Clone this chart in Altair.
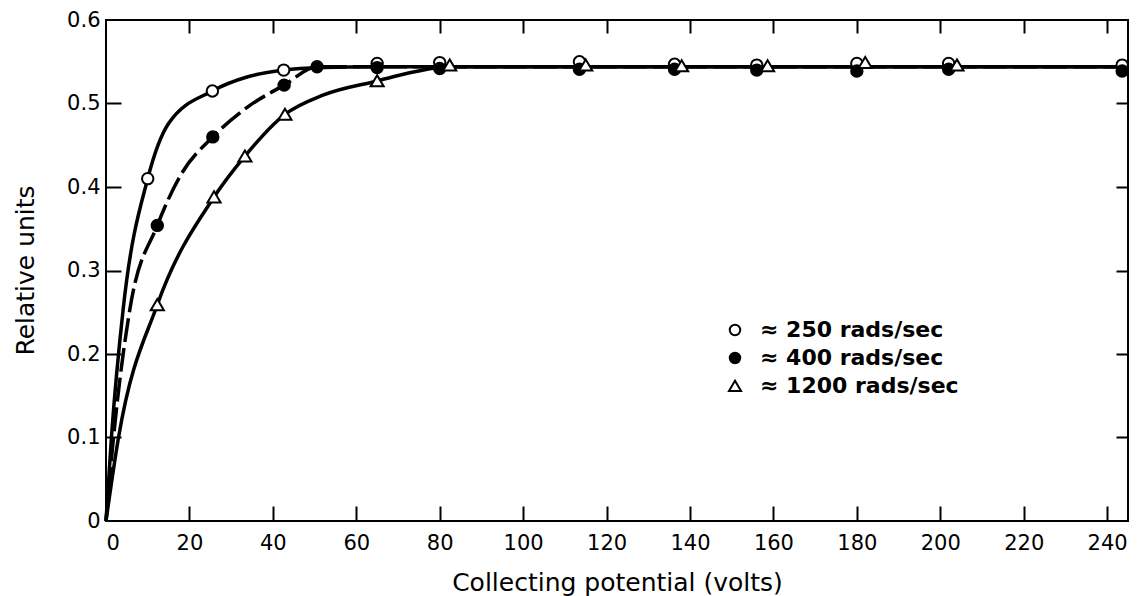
import altair as alt
import pandas as pd

# ---- data ----
series = ["≈ 250 rads/sec", "≈ 400 rads/sec", "≈ 1200 rads/sec"]

# marker points
m250_x = [10, 25.5, 42.6, 65, 80, 113.5, 136.3, 156, 180, 202, 243.6]
m250_y = [0.41, 0.515, 0.540, 0.548, 0.549, 0.550, 0.547, 0.546, 0.548, 0.548, 0.546]
m400_x = [12.3, 25.6, 42.7, 50.6, 65, 80, 113.5, 136.3, 156, 180, 202, 243.6]
m400_y = [0.354, 0.460, 0.522, 0.544, 0.543, 0.542, 0.541, 0.541, 0.540, 0.539, 0.541, 0.539]
m1200_x = [12.3, 25.9, 33.3, 42.9, 65, 82.4, 115, 138, 158.6, 182, 204]
m1200_y = [0.259, 0.388, 0.437, 0.487, 0.527, 0.546, 0.546, 0.545, 0.545, 0.549, 0.546]

# fitted curves
c250_x = [0, 1.3, 4.1, 10, 15, 25.5, 34, 42.6, 52, 65, 245]
c250_y = [0, 0.1, 0.253, 0.41, 0.476, 0.515, 0.532, 0.540, 0.543, 0.544, 0.544]
c400_x = [0, 1.8, 5.7, 12.3, 18, 25.6, 34, 42.7, 50.6, 65, 245]
c400_y = [0, 0.1, 0.253, 0.354, 0.415, 0.460, 0.496, 0.522, 0.544, 0.544, 0.544]
c1200_x = [0, 3.0, 12.3, 25.9, 33.3, 42.9, 52, 65, 74, 82, 245]
c1200_y = [0, 0.1, 0.259, 0.388, 0.437, 0.487, 0.510, 0.527, 0.538, 0.544, 0.544]

x_tick_values = [20, 40, 60, 80, 100, 120, 140, 160, 180, 200, 220, 240]
x_label_values = [0, 20, 40, 60, 80, 100, 120, 140, 160, 180, 200, 220, 240]
y_tick_values = [0.1, 0.2, 0.3, 0.4, 0.5]
y_label_values = [0, 0.1, 0.2, 0.3, 0.4, 0.5, 0.6]

markers = pd.DataFrame(
    [{"series": s, "v": x, "u": y}
     for s, xs, ys in zip(series, [m250_x, m400_x, m1200_x], [m250_y, m400_y, m1200_y])
     for x, y in zip(xs, ys)]
)
curves = pd.DataFrame(
    [{"series": s, "v": x, "u": y, "k": i}
     for s, xs, ys in zip(series, [c250_x, c400_x, c1200_x], [c250_y, c400_y, c1200_y])
     for i, (x, y) in enumerate(zip(xs, ys))]
)

W, H = 1022, 501
FONT = "DejaVu Sans"
TRIANGLE = "M0,-1.0L-1.15,0.95L1.15,0.95Z"

xscale = alt.Scale(domain=[0, 245], nice=False, zero=False)
yscale = alt.Scale(domain=[0, 0.6], nice=False)

x_axis_labels = alt.Axis(orient="bottom", values=x_label_values, ticks=False, tickSize=0,
                         domain=False, grid=False, labelFontSize=21, labelPadding=11,
                         labelFont=FONT, labelColor="black", format="d",
                         titleFont=FONT, titleFontSize=25, titleFontWeight="normal",
                         titleColor="black", titleX=511, titleY=69,
                         titleBaseline="alphabetic", titleAlign="center")
y_axis_labels = alt.Axis(orient="left", values=y_label_values, ticks=False, tickSize=0,
                         domain=False, grid=False, labelFontSize=21, labelPadding=6,
                         labelFont=FONT, labelColor="black",
                         labelExpr="datum.value == 0 ? '0' : format(datum.value, '.1f')",
                         titleFont=FONT, titleFontSize=25, titleFontWeight="normal",
                         titleColor="black", titleX=-73, titleY=250, titleAngle=270,
                         titleBaseline="alphabetic", titleAlign="center")
x_axis_in_bottom = alt.Axis(orient="top", offset=-H, values=x_tick_values, tickSize=15,
                            tickWidth=2, tickColor="black", labels=False, domain=False, grid=False)
y_axis_in_left = alt.Axis(orient="right", offset=-W, values=y_tick_values, tickSize=15,
                          tickWidth=2, tickColor="black", labels=False, domain=False, grid=False)
x_axis_in_top = alt.Axis(orient="bottom", offset=-H, values=x_tick_values, tickSize=13,
                         tickWidth=2, tickColor="black", labels=False, domain=False, grid=False)
y_axis_in_right = alt.Axis(orient="left", offset=-W, values=y_tick_values, tickSize=12,
                           tickWidth=2, tickColor="black", labels=False, domain=False, grid=False)

legend = alt.Legend(orient="none", legendX=618, legendY=299, padding=0, title=None,
                    labelFont=FONT, labelFontSize=22, labelFontWeight="bold",
                    labelColor="black", labelLimit=400, labelOffset=14, rowPadding=6,
                    symbolStrokeWidth=2, symbolSize=110)

solid = alt.Chart(curves).transform_filter(
    alt.datum.series != series[1]
).mark_line(interpolate="monotone", color="black", strokeWidth=3.5).encode(
    x=alt.X("v:Q", scale=xscale, axis=x_axis_labels, title="Collecting potential (volts)"),
    y=alt.Y("u:Q", scale=yscale, axis=y_axis_labels, title="Relative units"),
    detail="series:N",
    order="k:Q",
)

dashed = alt.Chart(curves).transform_filter(
    alt.datum.series == series[1]
).mark_line(interpolate="monotone", color="black", strokeWidth=3.5,
            strokeDash=[24, 6]).encode(
    x=alt.X("v:Q", scale=xscale, axis=x_axis_in_bottom, title=None),
    y=alt.Y("u:Q", scale=yscale, axis=y_axis_in_left, title=None),
    order="k:Q",
)

points = alt.Chart(markers).mark_point(filled=True, strokeWidth=2, opacity=1,
                                       size=130).encode(
    x=alt.X("v:Q", scale=xscale, axis=x_axis_in_top, title=None),
    y=alt.Y("u:Q", scale=yscale, axis=y_axis_in_right, title=None),
    shape=alt.Shape("series:N", scale=alt.Scale(domain=series,
                    range=["circle", "circle", TRIANGLE]), legend=legend),
    fill=alt.Fill("series:N", scale=alt.Scale(domain=series,
                  range=["white", "black", "white"]), legend=legend),
    stroke=alt.Stroke("series:N", scale=alt.Scale(domain=series,
                      range=["black", "black", "black"]), legend=legend),
)

chart = alt.layer(solid, dashed, points).resolve_axis(
    x="independent", y="independent"
).properties(
    width=W, height=H,
    autosize=alt.AutoSizeParams(type="none"),
    padding={"left": 106, "top": 20, "right": 13, "bottom": 75},
    background="white",
).configure_view(
    stroke="black", strokeWidth=2
)

chart.save("out.html", embed_options={"renderer": "svg", "actions": False})
